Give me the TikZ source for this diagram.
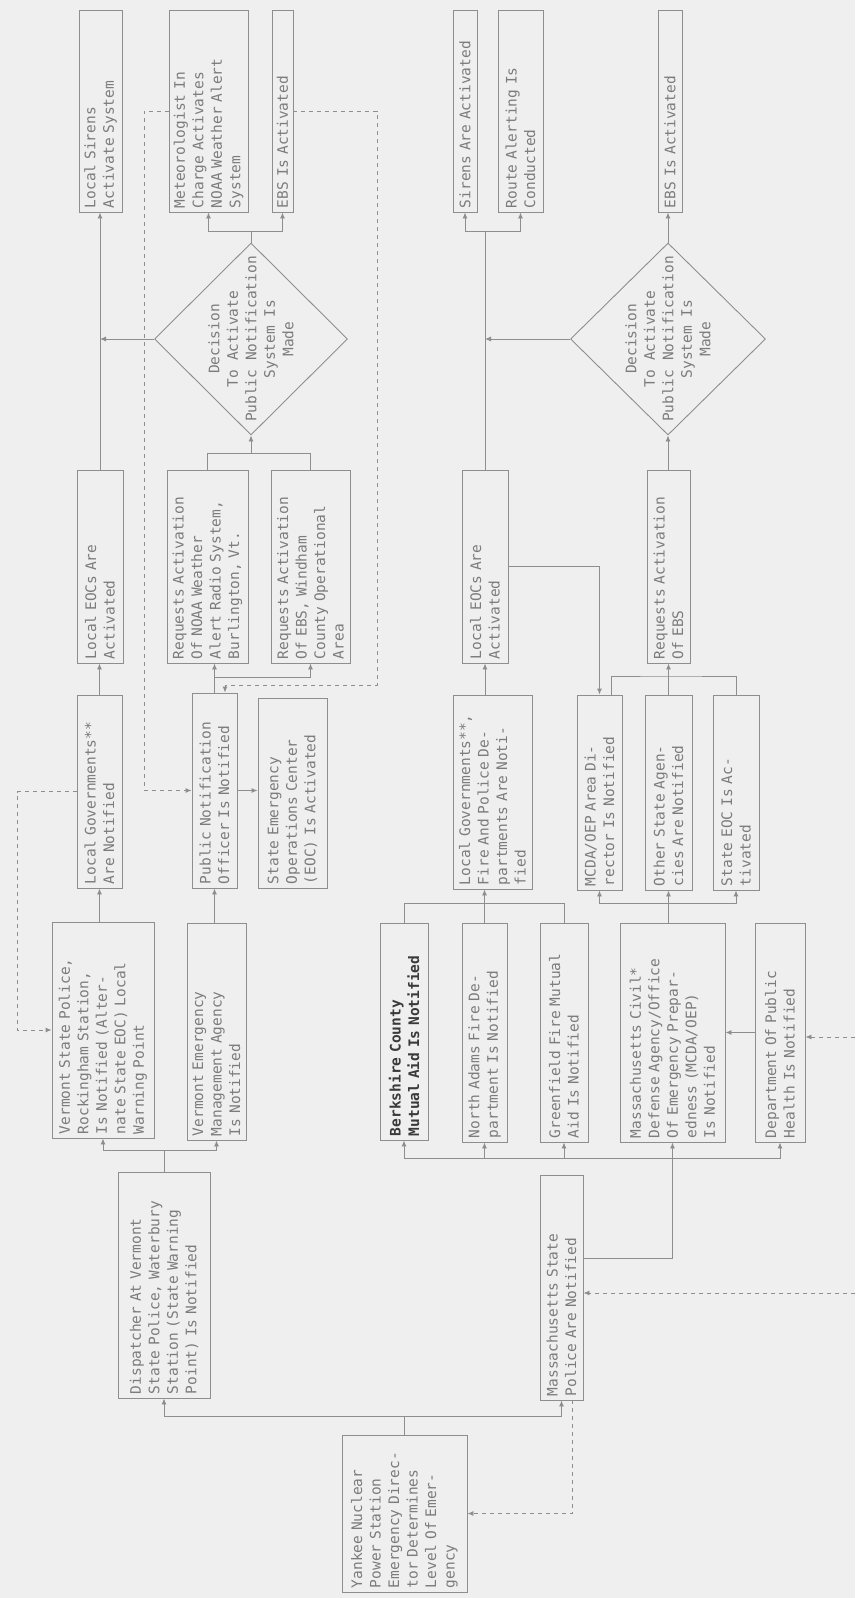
\documentclass[tikz,border=0pt]{standalone}
\usepackage{fontspec}
\setmainfont{DejaVu Sans Mono}
\usetikzlibrary{arrows.meta,shapes.geometric,calc}
\definecolor{bg}{HTML}{EFEFEF}
\definecolor{ln}{HTML}{8E8E8E}
\definecolor{tx}{HTML}{7C7C7C}
\definecolor{tb}{HTML}{3A3A3A}
\begin{document}
\begin{tikzpicture}[x=1pt,y=-1pt,
  bx/.style={draw=ln, line width=0.9pt, rotate=90, align=left, text=tx,
    font=\fontsize{14.5}{18.5}\selectfont, inner xsep=4pt, inner ysep=2pt},
  dia/.style={draw=ln, line width=0.9pt, diamond, rotate=90, inner sep=0pt},
  diatext/.style={rotate=90, align=center, text=tx, font=\fontsize{14.5}{18.5}\selectfont},
  cn/.style={draw=ln, line width=0.9pt},
  arr/.style={draw=ln, line width=0.9pt, -{Latex[length=6pt,width=5pt]}},
  dsh/.style={dash pattern=on 4pt off 4pt}]
\fill[bg] (0,0) rectangle (855,1598);
\useasboundingbox (0,0) rectangle (855,1598);

% ---------- level coordinates ----------
\coordinate (L231) at (0,231);
\coordinate (L453) at (0,453);
\coordinate (L677) at (0,677);
\coordinate (L685) at (0,685);
\coordinate (L676) at (0,676);
\coordinate (L903) at (0,903);
\coordinate (L1150) at (0,1150);
\coordinate (L1158) at (0,1158);
\coordinate (L1258) at (0,1258);
\coordinate (L1416) at (0,1416);
\coordinate (dR) at (377,0);
\coordinate (dP) at (225,0);
\coordinate (dL) at (144,0);
\coordinate (dV) at (17,0);
\coordinate (eR1) at (855,1037);
\coordinate (eR2) at (855,1293);

% ---------- Vermont (upper) chain ----------
\node[bx, minimum width=202, minimum height=43, text width=194] (lsir) at (100.5,111) {Local Sirens\\Activate System};
\node[bx, minimum width=202, minimum height=79, text width=194] (met) at (208.5,111) {Meteorologist In\\Charge Activates\\NOAA Weather Alert\\System};
\node[bx, minimum width=202, minimum height=21, text width=194] (ebs1) at (282.5,111) {EBS Is Activated};
\node[dia, minimum width=192, minimum height=193] (dia1) at (251,339) {};
\node[diatext] (dia1t) at (dia1.center) {Decision\\To Activate\\Public Notification\\System Is\\Made};
\node[bx, minimum width=193, minimum height=81, text width=185] (reqN) at (207.5,566.5) {Requests Activation\\Of NOAA Weather\\Alert Radio System,\\Burlington, Vt.};
\node[bx, minimum width=193, minimum height=79, text width=185] (reqE) at (310.5,566.5) {Requests Activation\\Of EBS, Windham\\County Operational\\Area};
\node[bx, minimum width=193, minimum height=46, text width=185] (leoc1) at (100,566.5) {Local EOCs Are\\Activated};
\node[bx, minimum width=193, minimum height=45, text width=185] (lgov1) at (99.5,791.5) {Local Governments**\\Are Notified};
\node[bx, minimum width=195, minimum height=45, text width=187] (pno) at (214.5,790.5) {Public Notification\\Officer Is Notified};
\node[bx, minimum width=190, minimum height=69, text width=182] (seoc) at (292.5,793) {State Emergency\\Operations Center\\(EOC) Is Activated};
\node[bx, minimum width=216, minimum height=102, text width=208] (vsp) at (103,1030) {Vermont State Police,\\Rockingham Station,\\Is Notified (Alter-\\nate State EOC) Local\\Warning Point};
\node[bx, minimum width=217, minimum height=59, text width=209] (vema) at (216.5,1031.5) {Vermont Emergency\\Management Agency\\Is Notified};
\node[bx, minimum width=226, minimum height=92, text width=218] (disp) at (164,1285) {Dispatcher At Vermont\\State Police, Waterbury\\Station (State Warning\\Point) Is Notified};
\node[bx, minimum width=157, minimum height=125, text width=149] (yank) at (404.5,1513.5) {Yankee Nuclear\\Power Station\\Emergency Direc-\\tor Determines\\Level Of Emer-\\gency};

% ---------- Massachusetts (lower) chain ----------
\node[bx, minimum width=202, minimum height=24, text width=194] (sir2) at (465,111) {Sirens Are Activated};
\node[bx, minimum width=202, minimum height=45, text width=194] (route) at (520.5,111) {Route Alerting Is\\Conducted};
\node[bx, minimum width=202, minimum height=24, text width=194] (ebs2) at (670,111) {EBS Is Activated};
\node[dia, minimum width=192, minimum height=195] (dia2) at (668,339) {};
\node[diatext] (dia2t) at (dia2.center) {Decision\\To Activate\\Public Notification\\System Is\\Made};
\node[bx, minimum width=193, minimum height=46, text width=185] (leoc2) at (485,566.5) {Local EOCs Are\\Activated};
\node[bx, minimum width=193, minimum height=43, text width=185] (req2) at (668.5,566.5) {Requests Activation\\Of EBS};
\node[bx, minimum width=194, minimum height=79, text width=186] (lgov2) at (492.5,792) {Local Governments**,\\Fire And Police De-\\partments Are Noti-\\fied};
\node[bx, minimum width=195, minimum height=45, text width=187] (mcdaad) at (599.5,792.5) {MCDA/OEP Area Di-\\rector Is Notified};
\node[bx, minimum width=195, minimum height=47, text width=187] (other) at (668.5,792.5) {Other State Agen-\\cies Are Notified};
\node[bx, minimum width=195, minimum height=46, text width=187] (seoc2) at (736,792.5) {State EOC Is Ac-\\tivated};
\node[bx, minimum width=217, minimum height=48, text width=209, text=tb,
  font=\fontsize{14.5}{18.5}\selectfont\bfseries] (berk) at (404,1031.5) {Berkshire County\\Mutual Aid Is Notified};
\node[bx, minimum width=219, minimum height=45, text width=211] (nadams) at (484.5,1032.5) {North Adams Fire De-\\partment Is Notified};
\node[bx, minimum width=219, minimum height=48, text width=211] (green) at (564,1032.5) {Greenfield Fire Mutual\\Aid Is Notified};
\node[bx, minimum width=219, minimum height=105, text width=211] (mcda) at (672.5,1032.5) {Massachusetts Civil*\\Defense Agency/Office\\Of Emergency Prepar-\\edness (MCDA/OEP)\\Is Notified};
\node[bx, minimum width=219, minimum height=50, text width=211] (dph) at (780,1032.5) {Department Of Public\\Health Is Notified};
\node[bx, minimum width=225, minimum height=43, text width=217] (msp) at (561.5,1287.5) {Massachusetts State\\Police Are Notified};

% ---------- connectors: Vermont ----------
\draw[arr] (leoc1.east) -- (leoc1.east |- lsir.west);
\draw[arr] (dia1.north) -- (dia1.north -| leoc1.east);
\draw[arr] (dia1.east) -- (dia1.east |- L231) -| (met.west);
\draw[arr] (dia1.east |- L231) -| (ebs1.west);
\draw[cn] (reqN.east) |- (reqE.east |- L453) -- (reqE.east);
\draw[arr] (dia1.west |- L453) -- (dia1.west);
\draw[arr] (pno.east) -- (pno.east |- reqN.west);
\draw[arr] (pno.east |- L677) -| (reqE.west);
\draw[arr, dsh] (ebs1.south) -| (dR |- L685) -| (dP |- pno.east);
\draw[arr, dsh] (met.north) -| (dL |- pno.north) -- (pno.north);
\draw[arr] (pno.south) -- (pno.south -| seoc.north);
\draw[arr] (lgov1.east) -- (lgov1.east |- leoc1.west);
\draw[arr, dsh] (lgov1.north) -| (dV |- vsp.north) -- (vsp.north);
\draw[arr] (lgov1.west |- vsp.east) -- (lgov1.west);
\draw[arr] (pno.west |- vema.east) -- (pno.west);
\draw[arr] (disp.east) -- (disp.east |- L1150) -| (vsp.west);
\draw[arr] (disp.east |- L1150) -| (vema.west);
\draw[arr] (yank.east) -- (yank.east |- L1416) -| (disp.west);
\draw[arr] (yank.east |- L1416) -| (msp.west);
\draw[arr, dsh] (msp.west) ++(11,0) |- (yank.south);

% ---------- connectors: Massachusetts ----------
\draw[arr] (leoc2.east) -- (leoc2.east |- L231) -| (sir2.west);
\draw[arr] (leoc2.east |- L231) -| (route.west);
\draw[arr] (dia2.north) -- (dia2.north -| leoc2.east);
\draw[arr] (dia2.east) -- (dia2.east |- ebs2.west);
\draw[arr] (dia2.west |- req2.east) -- (dia2.west);
\draw[arr] (leoc2.south) -| (mcdaad.east);
\draw[arr] (leoc2.west |- lgov2.east) -- (leoc2.west);
\draw[arr] (other.east) -- (other.east |- req2.west);
\draw[cn] ($(mcdaad.east)+(12,0)$) |- (other.east |- L676) -| (seoc2.east);
\draw[arr] (other.west |- mcda.east) -- (other.west);
\draw[arr] (other.west |- L903) -| (mcdaad.west);
\draw[arr] (other.west |- L903) -| (seoc2.west);
\draw[arr] (nadams.east) -- (nadams.east |- lgov2.west);
\draw[cn] (berk.east) |- (green.east |- L903) -- (green.east);
\draw[arr] (msp.south |- L1258) -| (mcda.west);
\draw[arr] (mcda.west |- L1158) -| (berk.west);
\draw[arr] (mcda.west |- L1158) -| (nadams.west);
\draw[arr] (mcda.west |- L1158) -| (green.west);
\draw[arr] (mcda.west |- L1158) -| (dph.west);
\draw[arr] (dph.north) -- (mcda.south);
\draw[arr, dsh] (eR1) -- (eR1 -| dph.south);
\draw[arr, dsh] (eR2) -- (eR2 -| msp.south);
\end{tikzpicture}
\end{document}
